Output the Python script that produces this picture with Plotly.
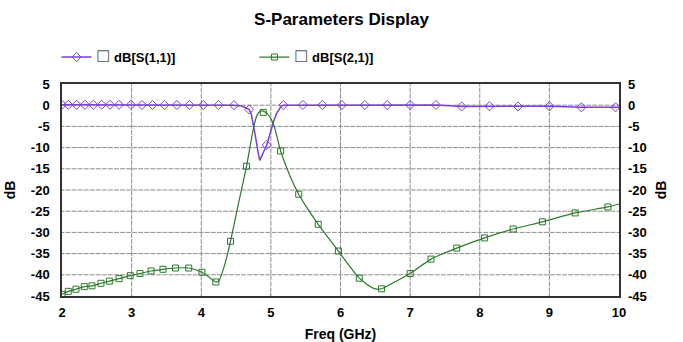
import numpy as np
import plotly.graph_objects as go

# ---- data ----
s11_mk_f = [2.0, 2.09, 2.21, 2.33, 2.45, 2.57, 2.69, 2.82, 2.99, 3.15, 3.30, 3.47, 3.65, 3.83,
            4.03, 4.25, 4.47, 4.69, 4.94, 5.18, 5.46, 5.74, 6.02, 6.35, 6.67, 7.00, 7.37, 7.74,
            8.14, 8.55, 9.00, 9.46, 9.95]
s11_mk_db = [0.1, 0.1, 0.1, 0.1, 0.1, 0.1, 0.1, 0.1, 0.1, 0.05, 0.05, 0.05, 0.05, 0.05,
             0.05, 0.05, 0.0, -1.0, -9.4, 0.0, 0.05, 0.05, 0.05, 0.05, 0.05, 0.05, 0.05, -0.3,
             -0.25, -0.3, -0.25, -0.5, -0.5]
s11_f = [2.0, 2.5, 3.0, 3.5, 4.0, 4.47, 4.58, 4.69, 4.72, 4.75, 4.78, 4.81, 4.84, 4.89, 4.94,
         4.97, 5.0, 5.04, 5.08, 5.12, 5.15, 5.18, 6.0, 7.37, 7.74, 8.55, 9.0, 9.46, 10.0]
s11_db = [0.1, 0.1, 0.1, 0.05, 0.05, 0.0, -0.2, -1.0, -2.2, -4.5, -7.5, -10.5, -13.0, -11.2, -9.4,
          -7.8, -6.0, -3.8, -2.0, -0.8, -0.2, 0.0, 0.05, 0.05, -0.3, -0.3, -0.25, -0.5, -0.5]

s21_mk_f = [2.0, 2.09, 2.2, 2.32, 2.43, 2.56, 2.68, 2.82, 2.98, 3.12, 3.28, 3.45, 3.63, 3.82,
            4.01, 4.21, 4.42, 4.65, 4.89, 5.14, 5.40, 5.68, 5.97, 6.27, 6.59, 7.0, 7.30, 7.67,
            8.07, 8.48, 8.90, 9.37, 9.84]
s21_mk_db = [-44.6, -43.9, -43.4, -42.8, -42.6, -42.0, -41.5, -40.9, -40.2, -39.7, -39.1, -38.7,
             -38.4, -38.4, -39.4, -41.7, -32.1, -14.4, -1.7, -10.8, -21.0, -28.1, -34.4, -40.8,
             -43.3, -39.7, -36.3, -33.7, -31.3, -29.2, -27.5, -25.4, -24.0]
s21_f = [2.0, 2.09, 2.2, 2.32, 2.43, 2.56, 2.68, 2.82, 2.98, 3.12, 3.28, 3.45, 3.63, 3.82,
         4.01, 4.1, 4.21, 4.25, 4.33, 4.42, 4.55, 4.65, 4.75, 4.80, 4.85, 4.89, 4.95, 5.04, 5.14,
         5.27, 5.40, 5.55, 5.68, 5.97, 6.27, 6.45, 6.52, 6.59, 6.8, 7.0, 7.30, 7.67, 8.07, 8.48,
         8.90, 9.37, 9.84, 10.0]
s21_db = [-44.6, -43.9, -43.4, -42.8, -42.6, -42.0, -41.5, -40.9, -40.2, -39.7, -39.1, -38.7,
          -38.4, -38.4, -39.4, -40.4, -41.7, -41.5, -38.0, -32.1, -22.0, -14.4, -5.4, -2.4, -1.4,
          -1.4, -2.0, -4.6, -10.8, -16.5, -21.0, -25.0, -28.1, -34.4, -40.8, -43.0, -43.4, -43.3,
          -41.5, -39.7, -36.3, -33.7, -31.3, -29.2, -27.5, -25.4, -24.0, -23.3]

names = ["<span style='font-weight:normal;font-size:16px;color:#555'>\u2610</span> <b>dB[S(1,1)]</b>",
         "<span style='font-weight:normal;font-size:16px;color:#555'>\u2610</span> <b>dB[S(2,1)]</b>"]
y_ticks = [5, 0, -5, -10, -15, -20, -25, -30, -35, -40, -45]
x_ticks = [2, 3, 4, 5, 6, 7, 8, 9, 10]
x_range = [2, 10]
y_range = [-45, 5]

PURPLE = "#7d3fd8"
GREEN = "#2b7a2b"
GRIDC = "#8c8c8c"
FONT = "Liberation Sans, Arial, sans-serif"

fig = go.Figure()

# dashed grid built from the tick values: short dash marks along each grid line
hx = np.linspace(x_range[0], x_range[1], 93)
vy = np.linspace(y_range[0], y_range[1], 36)
h_x, h_y = [], []
for yv in y_ticks[1:-1]:
    h_x += list(hx)
    h_y += [yv] * len(hx)
v_x, v_y = [], []
for xv in x_ticks[1:-1]:
    v_x += [xv] * len(vy)
    v_y += list(vy)
fig.add_trace(go.Scatter(x=h_x, y=h_y, mode="markers", showlegend=False, hoverinfo="skip",
                         marker=dict(symbol="line-ew", size=3.5, color=GRIDC, line=dict(color=GRIDC, width=1))))
fig.add_trace(go.Scatter(x=v_x, y=v_y, mode="markers", showlegend=False, hoverinfo="skip",
                         marker=dict(symbol="line-ns", size=3.5, color=GRIDC, line=dict(color=GRIDC, width=1))))

# S11
fig.add_trace(go.Scatter(x=s11_f, y=s11_db, mode="lines", line=dict(color=PURPLE, width=1.5),
                         showlegend=False, hoverinfo="skip"))
fig.add_trace(go.Scatter(x=s11_mk_f, y=s11_mk_db, mode="markers",
                         marker=dict(symbol="diamond-open", size=7, color=PURPLE, line=dict(width=1)),
                         showlegend=False))
fig.add_trace(go.Scatter(x=[None], y=[None], mode="lines+markers", name=names[0],
                         line=dict(color=PURPLE, width=1.5),
                         marker=dict(symbol="diamond-open", size=7, color=PURPLE, line=dict(width=1))))
# S21
fig.add_trace(go.Scatter(x=s21_f, y=s21_db, mode="lines", line=dict(color=GREEN, width=1.2, shape="spline", smoothing=0.6),
                         showlegend=False, hoverinfo="skip"))
fig.add_trace(go.Scatter(x=s21_mk_f, y=s21_mk_db, mode="markers",
                         marker=dict(symbol="square-open", size=6, color=GREEN, line=dict(width=1)),
                         showlegend=False))
fig.add_trace(go.Scatter(x=[None], y=[None], mode="lines+markers", name=names[1],
                         line=dict(color=GREEN, width=1.2),
                         marker=dict(symbol="square-open", size=6, color=GREEN, line=dict(width=1))))
# right axis carrier
fig.add_trace(go.Scatter(x=[None], y=[None], yaxis="y2", showlegend=False, hoverinfo="skip"))

tickfont = dict(size=13, family=FONT, weight="bold", color="black")
fig.update_layout(
    width=683, height=342,
    margin=dict(l=62, r=64, t=84, b=46, autoexpand=False),
    paper_bgcolor="white", plot_bgcolor="white",
    font=dict(family=FONT, size=14, color="black"),
    title=dict(text="<b>S-Parameters Display</b>", x=0.5, xanchor="center", y=0.945, yanchor="middle",
               font=dict(size=17, family=FONT)),
    legend=dict(orientation="h", x=-0.01, xanchor="left", y=1.127, yanchor="middle",
                font=dict(size=13, family=FONT), entrywidth=153, entrywidthmode="pixels",
                bgcolor="rgba(0,0,0,0)", itemclick=False),
    xaxis=dict(range=x_range, tickvals=x_ticks, ticktext=[str(v) for v in x_ticks],
               title=dict(text="<b>Freq (GHz)</b>", font=dict(size=14), standoff=14),
               tickfont=tickfont, ticklabelstandoff=4, automargin=False, showgrid=False,
               showline=True, linecolor="#333333", linewidth=1.5, mirror=True,
               ticks="inside", ticklen=3, tickcolor="#999999", zeroline=False),
    yaxis=dict(range=y_range, tickvals=y_ticks, ticktext=[str(v) for v in y_ticks],
               title=dict(text="<b>dB</b>", font=dict(size=14), standoff=12),
               tickfont=tickfont, ticklabelstandoff=8, automargin=False, showgrid=False,
               showline=True, linecolor="#333333", linewidth=1.5, mirror=True,
               ticks="", zeroline=False),
    yaxis2=dict(range=y_range, tickvals=y_ticks, ticktext=[str(v) for v in y_ticks],
                overlaying="y", side="right", showgrid=False, zeroline=False, automargin=False,
                tickfont=tickfont, ticklabelstandoff=8,
                title=dict(text="<b>dB</b>", font=dict(size=14), standoff=10), ticks=""),
)

fig.write_html("out.html")
